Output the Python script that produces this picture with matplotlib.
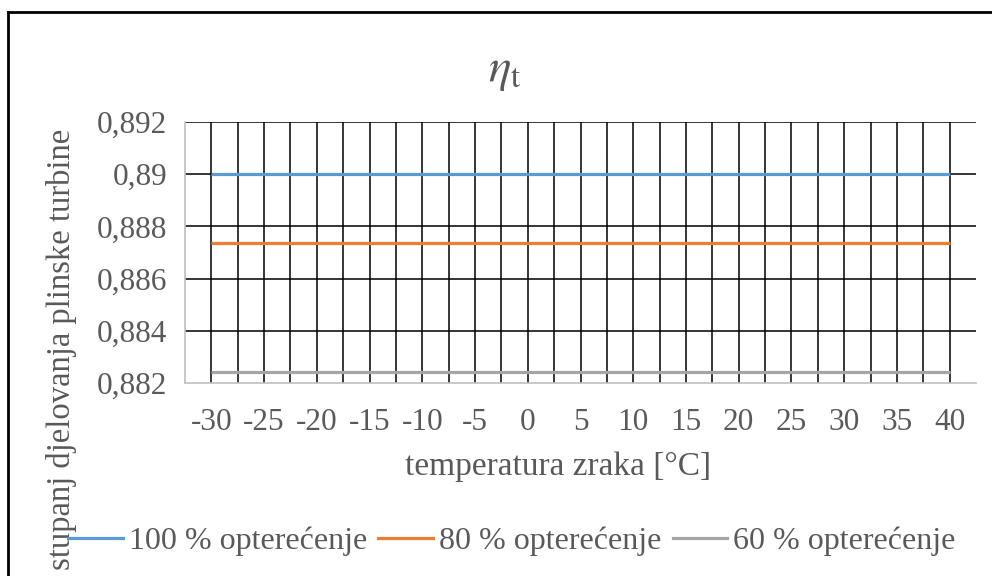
import matplotlib
matplotlib.use('Agg')
import matplotlib.pyplot as plt
from matplotlib.lines import Line2D
import numpy as np

# Data
temperatures = [-30, -25, -20, -15, -10, -5, 0, 5, 10, 15, 20, 25, 30, 35, 40]
eta_100 = [0.89] * 15
eta_80 = [0.88738] * 15
eta_60 = [0.88241] * 15
series_labels = ['100 % opterećenje', '80 % opterećenje', '60 % opterećenje']
y_ticks = [0.882, 0.884, 0.886, 0.888, 0.89, 0.892]
y_tick_labels = ['0,882', '0,884', '0,886', '0,888', '0,89', '0,892']

plt.rcParams['font.family'] = ['Liberation Serif', 'DejaVu Serif']
plt.rcParams['mathtext.fontset'] = 'stix'

text_grey = '#595959'
axis_grey = '#bfbfbf'
colors = ['#5b9bd5', '#ed7d31', '#a5a5a5']

fig = plt.figure(figsize=(9.92, 5.76), dpi=100)
ax = fig.add_axes([185/992, 1 - 383/576, 791/992, 261/576])

x = np.arange(len(temperatures))
for vals, col, lab in zip([eta_100, eta_80, eta_60], colors, series_labels):
    ax.plot(x, vals, color=col, lw=2.3, label=lab, solid_capstyle='butt', zorder=3)

ax.set_xlim(-0.5, len(temperatures) - 0.5)
ax.set_ylim(0.882, 0.892)

# gridlines: at each category and halfway between
for gx in np.arange(0, len(temperatures) - 0.5, 0.5):
    ax.axvline(gx, color='black', lw=1.1, zorder=1)
for gy in y_ticks[1:]:
    ax.axhline(gy, color='black', lw=1.1, zorder=1)

ax.set_xticks(x)
ax.set_xticklabels([str(t) for t in temperatures])
ax.set_yticks(y_ticks)
ax.set_yticklabels(y_tick_labels)
ax.tick_params(axis='both', length=0, labelsize=22.5, labelcolor=text_grey)
ax.tick_params(axis='x', pad=18)
ax.tick_params(axis='y', pad=13)

for s in ['top', 'right']:
    ax.spines[s].set_visible(False)
for s in ['left', 'bottom']:
    ax.spines[s].set_color(axis_grey)
    ax.spines[s].set_linewidth(1.2)

fig.text(558/992, 1 - 467/576, 'temperatura zraka [°C]', ha='center', va='center',
         fontsize=24, color=text_grey)
fig.text(62/992, 1 - 349/576, 'stupanj djelovanja plinske turbine', rotation=90,
         ha='center', va='center', fontsize=23.5, color=text_grey)
fig.text(505/992, 1 - 72/576, r'$\eta_{\mathrm{t}}$', ha='center', va='center',
         fontsize=34, color=text_grey)

handles = [Line2D([], [], color=c, lw=2.3) for c in colors]
fig.legend(handles, series_labels, loc='center', bbox_to_anchor=(512/992, 1 - 541/576),
           ncol=3, frameon=False, fontsize=23, labelcolor=text_grey,
           handlelength=1.7, handletextpad=0.2, columnspacing=0.35,
           borderpad=0, borderaxespad=0)

# outer chart frame (left and top edges visible)
fig.add_artist(Line2D([8/992, 8/992], [0, 1 - 12/576], color='black', lw=2,
                      transform=fig.transFigure))
fig.add_artist(Line2D([8/992, 1], [1 - 12/576, 1 - 12/576], color='black', lw=2,
                      transform=fig.transFigure))

fig.savefig('out.png', dpi=100)
